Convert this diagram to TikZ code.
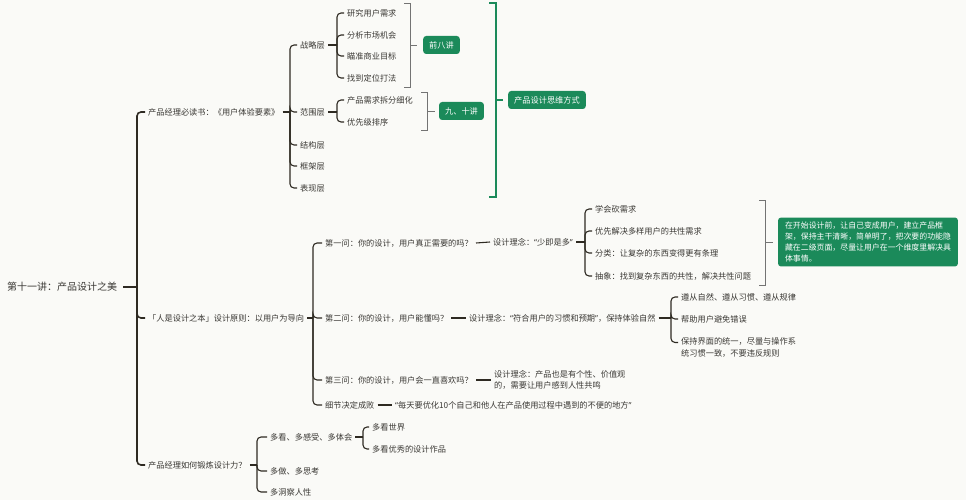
\documentclass[tikz,border=0pt]{standalone}
\usepackage{fontspec}
\setmainfont{Noto Sans CJK SC}
\newfontfamily\quotefont{Noto Sans}
\newcommand{\qopen}{{\quotefont “}}
\newcommand{\qclose}{{\quotefont ”}}
\definecolor{linedark}{HTML}{2E2A22}
\definecolor{textdark}{HTML}{3A3834}
\definecolor{mindgreen}{HTML}{1B8A5A}
\definecolor{paper}{HTML}{FAFAF7}
\tikzset{
  topic/.style={anchor=west, inner xsep=3pt, inner ysep=1pt, text=textdark,
    font=\fontsize{8.2}{11.5}\selectfont, align=left},
  treeline/.style={draw=linedark, line width=1.1pt, rounded corners=4pt},
  rootline/.style={treeline, line width=1.6pt},
  groupline/.style={draw=black!55, line width=0.9pt},
  greenline/.style={draw=mindgreen, line width=1.1pt},
  greenbox/.style={fill=mindgreen, text=white, rounded corners=3pt,
    inner xsep=6pt, minimum height=18pt, font=\fontsize{8.2}{11.5}\selectfont}
}

\begin{document}
\begin{tikzpicture}[x=1pt, y=-1pt]
  \fill[paper] (0,0) rectangle (966,500);
  \useasboundingbox (0,0) rectangle (966,500);

  % root and first level
  \node[topic, inner xsep=6pt, font=\fontsize{10}{12}\selectfont] (root) at (1,287) {第十一讲：产品设计之美};
  \node[topic] (b1) at (145,112) {产品经理必读书：《用户体验要素》};
  \node[topic] (b2) at (145,318) {「人是设计之本」设计原则：以用户为导向};
  \node[topic] (b3) at (145,465) {产品经理如何锻炼设计力？};
  \coordinate (s0) at (137,287);
  \draw[rootline] (root.east) -- (s0);
  \foreach \c in {b1,b2,b3} \draw[rootline] (s0) |- (\c.west);

  % user experience elements
  \node[topic] (c11) at (297,45) {战略层};
  \node[topic] (c12) at (297,112) {范围层};
  \node[topic] (c13) at (297,145) {结构层};
  \node[topic] (c14) at (297,166) {框架层};
  \node[topic] (c15) at (297,188) {表现层};
  \coordinate (s1) at (290,112);
  \draw[treeline] (b1.east) -- (s1);
  \foreach \c in {c11,c12,c13,c14,c15} \draw[treeline] (s1) |- (\c.west);

  \node[topic] (e1) at (344,13) {研究用户需求};
  \node[topic] (e2) at (344,35) {分析市场机会};
  \node[topic] (e3) at (344,56) {瞄准商业目标};
  \node[topic] (e4) at (344,78) {找到定位打法};
  \coordinate (s2) at (337,45);
  \draw[treeline] (c11.east) -- (s2);
  \foreach \c in {e1,e2,e3,e4} \draw[treeline] (s2) |- (\c.west);

  \node[topic] (f1) at (344,100) {产品需求拆分细化};
  \node[topic] (f2) at (344,122) {优先级排序};
  \coordinate (s3) at (337,112);
  \draw[treeline] (c12.east) -- (s3);
  \foreach \c in {f1,f2} \draw[treeline] (s3) |- (\c.west);

  \node[greenbox] (p8) at (441.5,45) {前八讲};
  \draw[groupline] (404,3) -- (410,3) -- (410,87) -- (404,87);
  \draw[groupline] (410,45) -- ([xshift=-6pt]p8.west);
  \node[greenbox] (p910) at (461.5,111) {九、十讲};
  \draw[groupline] (421,92) -- (427,92) -- (427,130) -- (421,130);
  \draw[groupline] (427,111) -- ([xshift=-4pt]p910.west);
  \node[greenbox] (think) at (547,100) {产品设计思维方式};
  \draw[greenline] (489,3) -- (496,3) -- (496,197) -- (489,197);
  \draw[greenline] (496,100) -- ([xshift=-5pt]think.west);

  % design principle
  \node[topic] (q1) at (322,243) {第一问：你的设计，用户真正需要的吗？};
  \node[topic] (q2) at (322,318) {第二问：你的设计，用户能懂吗？};
  \node[topic] (q3) at (322,380) {第三问：你的设计，用户会一直喜欢吗？};
  \node[topic] (q4) at (322,405) {细节决定成败};
  \coordinate (s4) at (313,318);
  \draw[treeline] (b2.east) -- (s4);
  \foreach \c in {q1,q2,q3,q4} \draw[treeline] (s4) |- (\c.west);

  \node[topic] (k1) at (490,242) {设计理念：\qopen 少即是多\qclose};
  \node[topic] (k2) at (466,318) {设计理念：\qopen 符合用户的习惯和预期\qclose，保持体验自然};
  \node[topic] (k3) at (491,380) {设计理念：产品也是有个性、价值观\\的，需要让用户感到人性共鸣};
  \node[topic] (k4) at (392,405) {\qopen 每天要优化10个自己和他人在产品使用过程中遇到的不便的地方\qclose};
  \foreach \a/\b in {q1/k1,q2/k2,q3/k3,q4/k4} \draw[treeline] (\a.east) -- (\b.west);

  \node[topic] (h1) at (592,209) {学会砍需求};
  \node[topic] (h2) at (592,231) {优先解决多样用户的共性需求};
  \node[topic] (h3) at (592,253) {分类：让复杂的东西变得更有条理};
  \node[topic] (h4) at (592,276) {抽象：找到复杂东西的共性，解决共性问题};
  \coordinate (s5) at (585,242);
  \draw[treeline] (k1.east) -- (s5);
  \foreach \c in {h1,h2,h3,h4} \draw[treeline] (s5) |- (\c.west);

  \node[greenbox, inner xsep=7pt, inner ysep=4pt, align=left, font=\fontsize{7.9}{11.2}\selectfont] (note) at (868,242)
    {在开始设计前，让自己变成用户，建立产品框\\架，保持主干清晰，简单明了，把次要的功能隐\\藏在二级页面，尽量让用户在一个维度里解决具\\体事情。};
  \draw[groupline] (759,200) -- (765,200) -- (765,285) -- (759,285);
  \draw[groupline] (765,242) -- ([xshift=-5pt]note.west);

  \node[topic] (n1) at (678,297) {遵从自然、遵从习惯、遵从规律};
  \node[topic] (n2) at (678,319) {帮助用户避免错误};
  \node[topic] (n3) at (678,347.5) {保持界面的统一，尽量与操作系\\统习惯一致，不要违反规则};
  \coordinate (s6) at (671,318);
  \draw[treeline] (k2.east) -- (s6);
  \foreach \c in {n1,n2} \draw[treeline] (s6) |- (\c.west);
  \draw[treeline] (s6) |- ([yshift=5pt]n3.west);

  % training design skills
  \node[topic] (m1) at (267,437) {多看、多感受、多体会};
  \node[topic] (m2) at (267,471) {多做、多思考};
  \node[topic] (m3) at (267,492) {多洞察人性};
  \coordinate (s7) at (257,465);
  \draw[treeline] (b3.east) -- (s7);
  \foreach \c in {m1,m2,m3} \draw[treeline] (s7) |- (\c.west);

  \node[topic] (w1) at (369,427) {多看世界};
  \node[topic] (w2) at (369,449) {多看优秀的设计作品};
  \coordinate (s8) at (363,437);
  \draw[treeline] (m1.east) -- (s8);
  \foreach \c in {w1,w2} \draw[treeline] (s8) |- (\c.west);
\end{tikzpicture}
\end{document}
